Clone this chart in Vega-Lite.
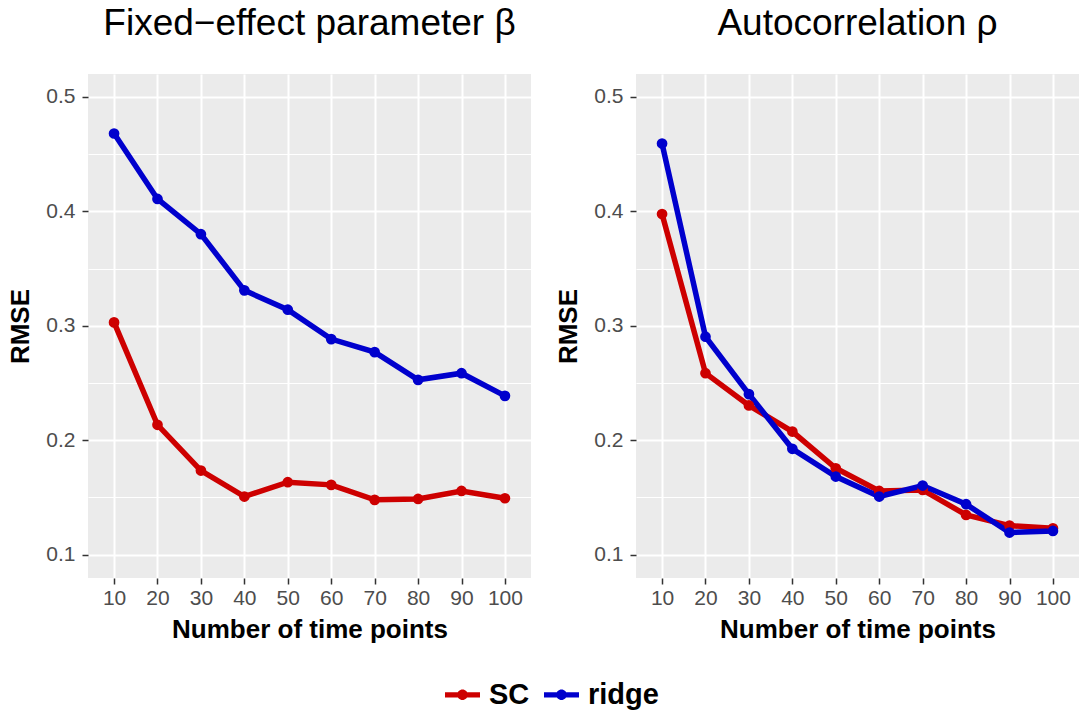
{
  "$schema": "https://vega.github.io/schema/vega-lite/v6.json",
  "background": "white",
  "padding": {"left": 7, "top": 5, "right": 2, "bottom": 2},
  "datasets": {
    "d": [
      {"panel": "beta", "method": "SC", "n": 10, "rmse": 0.3029},
      {"panel": "beta", "method": "SC", "n": 20, "rmse": 0.2134},
      {"panel": "beta", "method": "SC", "n": 30, "rmse": 0.1734},
      {"panel": "beta", "method": "SC", "n": 40, "rmse": 0.1507},
      {"panel": "beta", "method": "SC", "n": 50, "rmse": 0.1632},
      {"panel": "beta", "method": "SC", "n": 60, "rmse": 0.1609},
      {"panel": "beta", "method": "SC", "n": 70, "rmse": 0.1478},
      {"panel": "beta", "method": "SC", "n": 80, "rmse": 0.1486},
      {"panel": "beta", "method": "SC", "n": 90, "rmse": 0.1556},
      {"panel": "beta", "method": "SC", "n": 100, "rmse": 0.1492},
      {"panel": "beta", "method": "ridge", "n": 10, "rmse": 0.468},
      {"panel": "beta", "method": "ridge", "n": 20, "rmse": 0.4108},
      {"panel": "beta", "method": "ridge", "n": 30, "rmse": 0.380},
      {"panel": "beta", "method": "ridge", "n": 40, "rmse": 0.3309},
      {"panel": "beta", "method": "ridge", "n": 50, "rmse": 0.314},
      {"panel": "beta", "method": "ridge", "n": 60, "rmse": 0.2883},
      {"panel": "beta", "method": "ridge", "n": 70, "rmse": 0.2769},
      {"panel": "beta", "method": "ridge", "n": 80, "rmse": 0.2527},
      {"panel": "beta", "method": "ridge", "n": 90, "rmse": 0.2585},
      {"panel": "beta", "method": "ridge", "n": 100, "rmse": 0.2387},
      {"panel": "rho", "method": "SC", "n": 10, "rmse": 0.3976},
      {"panel": "rho", "method": "SC", "n": 20, "rmse": 0.2585},
      {"panel": "rho", "method": "SC", "n": 30, "rmse": 0.2303},
      {"panel": "rho", "method": "SC", "n": 40, "rmse": 0.2075},
      {"panel": "rho", "method": "SC", "n": 50, "rmse": 0.1754},
      {"panel": "rho", "method": "SC", "n": 60, "rmse": 0.1556},
      {"panel": "rho", "method": "SC", "n": 70, "rmse": 0.1565},
      {"panel": "rho", "method": "SC", "n": 80, "rmse": 0.1346},
      {"panel": "rho", "method": "SC", "n": 90, "rmse": 0.1253},
      {"panel": "rho", "method": "SC", "n": 100, "rmse": 0.1229},
      {"panel": "rho", "method": "ridge", "n": 10, "rmse": 0.4592},
      {"panel": "rho", "method": "ridge", "n": 20, "rmse": 0.2904},
      {"panel": "rho", "method": "ridge", "n": 30, "rmse": 0.2402},
      {"panel": "rho", "method": "ridge", "n": 40, "rmse": 0.1924},
      {"panel": "rho", "method": "ridge", "n": 50, "rmse": 0.1682},
      {"panel": "rho", "method": "ridge", "n": 60, "rmse": 0.1507},
      {"panel": "rho", "method": "ridge", "n": 70, "rmse": 0.1603},
      {"panel": "rho", "method": "ridge", "n": 80, "rmse": 0.1440},
      {"panel": "rho", "method": "ridge", "n": 90, "rmse": 0.1192},
      {"panel": "rho", "method": "ridge", "n": 100, "rmse": 0.1206}
    ]
  },
  "data": {"name": "d"},
  "bounds": "flush",
  "spacing": 105,
  "hconcat": [
    {
      "width": 443,
      "height": 504,
      "title": {"text": "Fixed−effect parameter β"},
      "transform": [{"filter": "datum.panel == 'beta'"}],
      "encoding": {
        "x": {"field": "n", "type": "ordinal", "sort": "ascending", "scale": {"type": "point", "padding": 0.6}, "title": "Number of time points"},
        "y": {"field": "rmse", "type": "quantitative", "scale": {"domain": [0.0795, 0.52], "nice": false, "zero": false}, "title": "RMSE",
          "axis": {"values": [0.1, 0.15, 0.2, 0.25, 0.3, 0.35, 0.4, 0.45, 0.5], "format": ".1f", "labelExpr": "abs(datum.value*10 - round(datum.value*10)) > 0.01 ? '' : datum.label",
            "gridWidth": {"condition": {"test": "abs(datum.value*10 - round(datum.value*10)) > 0.01", "value": 1}, "value": 2},
            "tickOpacity": {"condition": {"test": "abs(datum.value*10 - round(datum.value*10)) > 0.01", "value": 0}, "value": 1}}},
        "color": {"field": "method", "type": "nominal", "scale": {"domain": ["SC", "ridge"], "range": ["#CD0000", "#0000CD"]},
          "legend": {"orient": "none", "legendX": 357, "legendY": 603, "direction": "horizontal", "title": null,
            "symbolType": "M-1,-0.15H1V0.15H-1Z M-0.3,0A0.3,0.3 0 1,1 0.3,0A0.3,0.3 0 1,1 -0.3,0Z",
            "symbolSize": 1225, "symbolStrokeWidth": 0, "labelOffset": 9, "columnPadding": 14,
            "labelFontSize": 29, "labelFontWeight": "bold", "labelColor": "black", "labelFont": "Liberation Sans",
            "encode": {"symbols": {"update": {"fill": {"scale": "color", "field": "value"}, "fillOpacity": {"value": 1}}}}}}
      },
      "layer": [
        {"mark": {"type": "line", "strokeWidth": 5.5}},
        {"mark": {"type": "point", "filled": true, "size": 115, "opacity": 1}}
      ]
    },
    {
      "width": 443,
      "height": 504,
      "title": {"text": "Autocorrelation ρ"},
      "transform": [{"filter": "datum.panel == 'rho'"}],
      "encoding": {
        "x": {"field": "n", "type": "ordinal", "sort": "ascending", "scale": {"type": "point", "padding": 0.6}, "title": "Number of time points"},
        "y": {"field": "rmse", "type": "quantitative", "scale": {"domain": [0.0795, 0.52], "nice": false, "zero": false}, "title": "RMSE",
          "axis": {"values": [0.1, 0.15, 0.2, 0.25, 0.3, 0.35, 0.4, 0.45, 0.5], "format": ".1f", "labelExpr": "abs(datum.value*10 - round(datum.value*10)) > 0.01 ? '' : datum.label",
            "gridWidth": {"condition": {"test": "abs(datum.value*10 - round(datum.value*10)) > 0.01", "value": 1}, "value": 2},
            "tickOpacity": {"condition": {"test": "abs(datum.value*10 - round(datum.value*10)) > 0.01", "value": 0}, "value": 1}}},
        "color": {"field": "method", "type": "nominal", "scale": {"domain": ["SC", "ridge"], "range": ["#CD0000", "#0000CD"]},
          "legend": {"orient": "none", "legendX": 357, "legendY": 603, "direction": "horizontal", "title": null,
            "symbolType": "M-1,-0.15H1V0.15H-1Z M-0.3,0A0.3,0.3 0 1,1 0.3,0A0.3,0.3 0 1,1 -0.3,0Z",
            "symbolSize": 1225, "symbolStrokeWidth": 0, "labelOffset": 9, "columnPadding": 14,
            "labelFontSize": 29, "labelFontWeight": "bold", "labelColor": "black", "labelFont": "Liberation Sans",
            "encode": {"symbols": {"update": {"fill": {"scale": "color", "field": "value"}, "fillOpacity": {"value": 1}}}}}}
      },
      "layer": [
        {"mark": {"type": "line", "strokeWidth": 5.5}},
        {"mark": {"type": "point", "filled": true, "size": 115, "opacity": 1}}
      ]
    }
  ],
  "config": {
    "font": "Liberation Sans",
    "view": {"fill": "#EBEBEB", "stroke": null},
    "title": {"fontSize": 37, "fontWeight": "normal", "color": "black", "font": "Liberation Sans", "anchor": "middle", "baseline": "alphabetic", "offset": 31},
    "axis": {"domain": false, "grid": true, "gridColor": "white", "gridWidth": 2, "tickColor": "#333333", "tickWidth": 1.5, "tickSize": 6,
      "labelColor": "#4D4D4D", "labelFont": "Liberation Sans", "labelFontSize": 21, "titleFont": "Liberation Sans", "titleFontSize": 26,
      "titleFontWeight": "bold", "titleColor": "black"},
    "axisX": {"labelAngle": 0, "labelPadding": 3, "titlePadding": 8},
    "axisY": {"labelPadding": 7, "titlePadding": 12}
  }
}
